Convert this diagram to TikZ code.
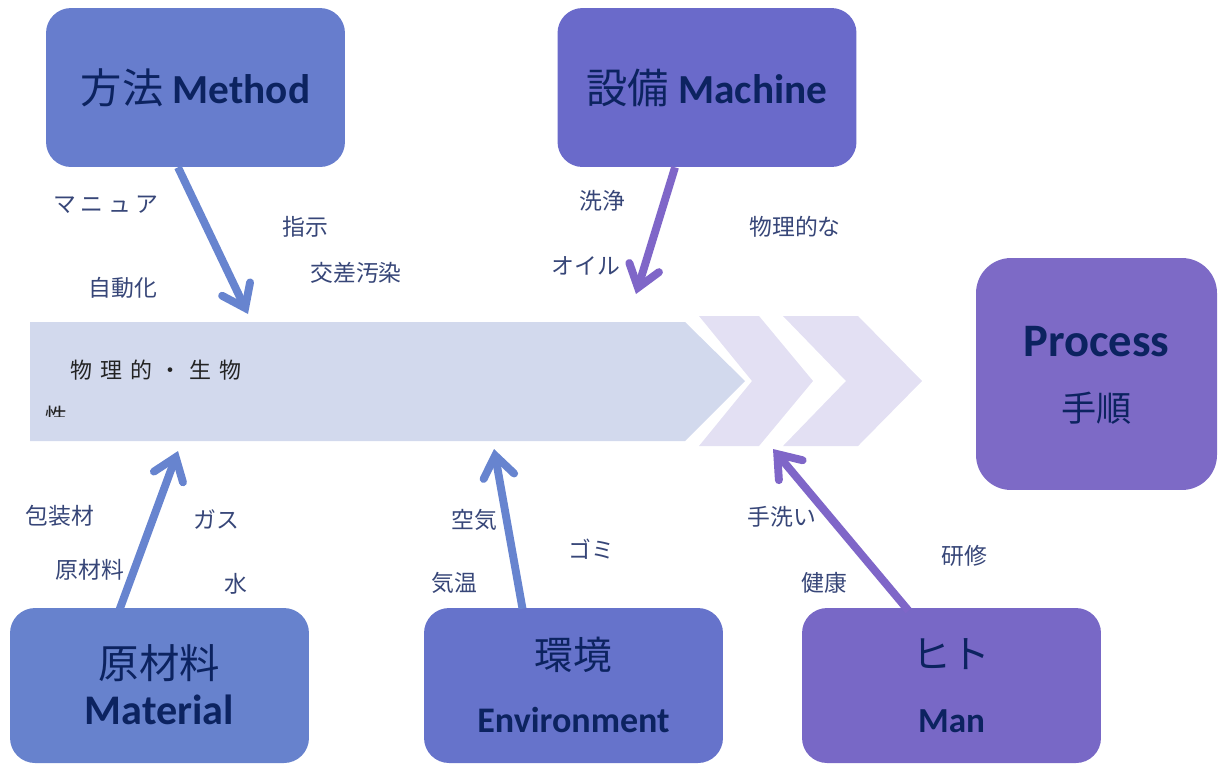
\documentclass[tikz,border=0pt]{standalone}
\usepackage{fontspec}
\setmainfont{Carlito}
\newfontfamily\jp{Noto Sans CJK JP}
\usetikzlibrary{arrows.meta,calc}

\definecolor{methodc}{RGB}{103,125,205}
\definecolor{machinec}{RGB}{106,106,202}
\definecolor{processc}{RGB}{125,106,198}
\definecolor{materialc}{RGB}{103,130,205}
\definecolor{envc}{RGB}{102,115,203}
\definecolor{manc}{RGB}{120,104,198}
\definecolor{bluebone}{RGB}{103,132,207}
\definecolor{purplebone}{RGB}{127,102,200}
\definecolor{bodyc}{RGB}{210,217,237}
\definecolor{chevc}{RGB}{227,224,243}
\definecolor{navy}{RGB}{12,35,96}
\definecolor{labelc}{RGB}{55,70,120}

\newcommand{\ja}[1]{{\jp\mdseries #1}}

\begin{document}
\begin{tikzpicture}[x=0.02cm,y=-0.02cm]

    \tikzset{
      cause/.style={
        rounded corners=0.5cm,
        minimum width=5.98cm,
        minimum height=3.18cm,
        inner sep=0pt,
        text=navy,
        font=\bfseries\fontsize{23.5}{28}\selectfont,
      },
      boxtext/.style={text=navy, inner sep=0pt, anchor=base},
      factor/.style={text=labelc, inner sep=0pt, font=\jp\fontsize{13}{15}\selectfont},
      bone/.style={
        line width=4.5pt,
        -{Straight Barb[length=0.42cm,width=0.62cm,line cap=round]},
      },
    }
    \useasboundingbox (0,0) rectangle (1222,765);

    % process arrow
    \fill[bodyc] (30,322) -- (685,322) -- (745,381) -- (685,441) -- (30,441) -- cycle;
    \fill[chevc] (699,316) -- (759,316) -- (813,381) -- (759,446) -- (699,446) -- (752,381) -- cycle;
    \fill[chevc] (783,316) -- (858,316) -- (922,381) -- (858,446) -- (783,446) -- (846,381) -- cycle;
    \node[inner sep=0pt, text={rgb,255:red,35;green,35;blue,35}, font=\jp\fontsize{12.5}{15}\selectfont] (hazard) at (156,370)
      {物\hspace{4.5pt}理\hspace{4.5pt}的\hspace{4.5pt}・\hspace{4.5pt}生\hspace{4.5pt}物};
    \begin{scope}
      \clip (30,322) rectangle (300,416);
      \node[inner sep=0pt, text={rgb,255:red,35;green,35;blue,35}, font=\jp\fontsize{12.5}{15}\selectfont] (hazardcut) at (56,416) {性};
    \end{scope}

    % causes
    \node[cause, fill=methodc] (method) at (195.5,87.5) {\ja{方法} Method};
    \node[cause, fill=machinec] (machine) at (707,87.5) {\ja{設備} Machine};
    \node[cause, fill=processc, minimum width=4.82cm, minimum height=4.64cm, rounded corners=0.7cm] (process) at (1096.5,374) {};
    \node[cause, fill=materialc, minimum height=3.1cm] (material) at (159.5,685.5) {};
    \node[cause, fill=envc, minimum height=3.1cm] (env) at (573.5,685.5) {};
    \node[cause, fill=manc, minimum height=3.1cm] (man) at (951.5,685.5) {};

    \node[boxtext, font=\bfseries\fontsize{26.5}{30}\selectfont] (process-en) at (1096.5,356) {Process};
    \node[boxtext, font=\jp\fontsize{20}{24}\selectfont] (process-ja) at (1096.5,421) {手順};
    \node[boxtext, font=\jp\fontsize{23}{26}\selectfont] (material-ja) at (159.5,678) {原材料};
    \node[boxtext, font=\bfseries\fontsize{24}{28}\selectfont] (material-en) at (159.5,724) {Material};
    \node[boxtext, font=\jp\fontsize{22}{26}\selectfont] (env-ja) at (573.5,669) {環境};
    \node[boxtext, font=\bfseries\fontsize{20.5}{24}\selectfont] (env-en) at (573.5,732) {Environment};
    \node[boxtext, font=\jp\fontsize{22}{26}\selectfont] (man-ja) at (951.5,668) {ヒト};
    \node[boxtext, font=\bfseries\fontsize{20}{24}\selectfont] (man-en) at (951.5,732) {Man};

    % bones
    \coordinate (methodtip) at (248,314);
    \coordinate (machinetip) at (636,294);
    \coordinate (materialtip) at (178,451);
    \coordinate (envtip) at (494,449);
    \coordinate (mantip) at (773,449);
    \draw[bone, bluebone] ($(method.south)+(-17.5,0)$) -- (methodtip);
    \draw[bone, purplebone] ($(machine.south)+(-32,0)$) -- (machinetip);
    \draw[bone, bluebone] ($(material.north)+(-40,2)$) -- (materialtip);
    \draw[bone, bluebone] ($(env.north)+(-51,1)$) -- (envtip);
    \draw[bone, purplebone] ($(man.north)+(-43,3)$) -- (mantip);

    % factors
    \node[factor] (manual) at (106,205) {マ\hspace{2.5pt}ニ\hspace{2.5pt}ュ\hspace{2.5pt}ア};
    \node[factor] (instruction) at (305,227) {指示};
    \node[factor] (automation) at (123,288) {自動化};
    \node[factor] (crosscont) at (356,273) {交差汚染};
    \node[factor] (cleaning) at (602,201) {洗浄};
    \node[factor] (oil) at (586,266) {オイル};
    \node[factor] (physical) at (795,227) {物理的な};
    \node[factor] (packaging) at (60,516) {包装材};
    \node[factor] (gas) at (216,520) {ガス};
    \node[factor] (rawmat) at (90,570) {原材料};
    \node[factor] (water) at (236,584) {水};
    \node[factor] (air) at (474,520) {空気};
    \node[factor] (trash) at (591,549) {ゴミ};
    \node[factor] (temp) at (454,583) {気温};
    \node[factor] (handwash) at (782,517) {手洗い};
    \node[factor] (health) at (824,583) {健康};
    \node[factor] (training) at (964,556) {研修};

\end{tikzpicture}
\end{document}
